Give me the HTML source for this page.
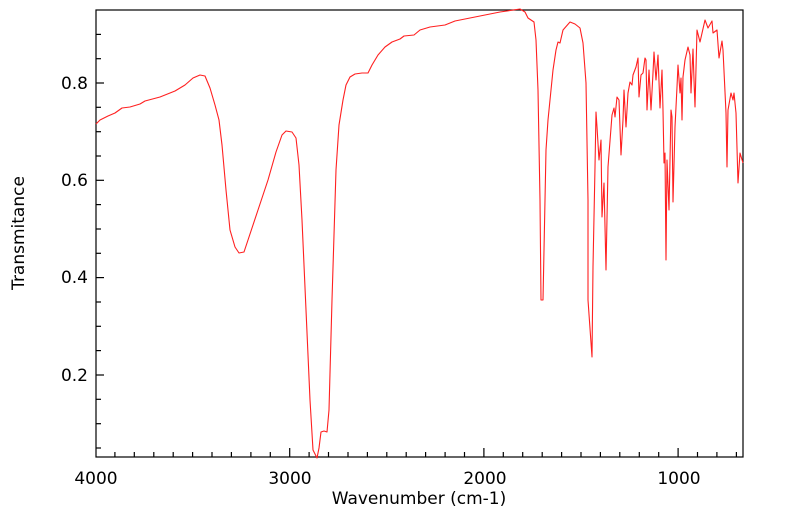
<!DOCTYPE html>
<html><head><meta charset="utf-8"><style>body{margin:0;background:#fff}svg{display:block}</style></head><body>
<svg width="799" height="516" xmlns="http://www.w3.org/2000/svg" font-family="DejaVu Sans, Liberation Sans, sans-serif">
<rect width="799" height="516" fill="#fff"/>
<g stroke="#000" stroke-width="1.2">
<line x1="96" x2="101" y1="34.4" y2="34.4"/>
<line x1="96" x2="101" y1="58.7" y2="58.7"/>
<line x1="96" x2="104" y1="83" y2="83"/>
<line x1="96" x2="101" y1="107.3" y2="107.3"/>
<line x1="96" x2="101" y1="131.7" y2="131.7"/>
<line x1="96" x2="101" y1="156" y2="156"/>
<line x1="96" x2="104" y1="180.3" y2="180.3"/>
<line x1="96" x2="101" y1="204.6" y2="204.6"/>
<line x1="96" x2="101" y1="229" y2="229"/>
<line x1="96" x2="101" y1="253.3" y2="253.3"/>
<line x1="96" x2="104" y1="277.6" y2="277.6"/>
<line x1="96" x2="101" y1="302" y2="302"/>
<line x1="96" x2="101" y1="326.3" y2="326.3"/>
<line x1="96" x2="101" y1="350.6" y2="350.6"/>
<line x1="96" x2="104" y1="375" y2="375"/>
<line x1="96" x2="101" y1="399.3" y2="399.3"/>
<line x1="96" x2="101" y1="423.7" y2="423.7"/>
<line x1="96" x2="101" y1="448" y2="448"/>
<line y1="457" y2="452" x1="114.9" x2="114.9"/>
<line y1="457" y2="452" x1="134.3" x2="134.3"/>
<line y1="457" y2="452" x1="153.8" x2="153.8"/>
<line y1="457" y2="452" x1="173.2" x2="173.2"/>
<line y1="457" y2="452" x1="192.6" x2="192.6"/>
<line y1="457" y2="452" x1="212" x2="212"/>
<line y1="457" y2="452" x1="231.4" x2="231.4"/>
<line y1="457" y2="452" x1="250.9" x2="250.9"/>
<line y1="457" y2="452" x1="270.3" x2="270.3"/>
<line y1="457" y2="448" x1="289.7" x2="289.7"/>
<line y1="457" y2="452" x1="309.1" x2="309.1"/>
<line y1="457" y2="452" x1="328.5" x2="328.5"/>
<line y1="457" y2="452" x1="348" x2="348"/>
<line y1="457" y2="452" x1="367.4" x2="367.4"/>
<line y1="457" y2="452" x1="386.8" x2="386.8"/>
<line y1="457" y2="452" x1="406.2" x2="406.2"/>
<line y1="457" y2="452" x1="425.6" x2="425.6"/>
<line y1="457" y2="452" x1="445.1" x2="445.1"/>
<line y1="457" y2="452" x1="464.5" x2="464.5"/>
<line y1="457" y2="448" x1="483.9" x2="483.9"/>
<line y1="457" y2="452" x1="503.3" x2="503.3"/>
<line y1="457" y2="452" x1="522.7" x2="522.7"/>
<line y1="457" y2="452" x1="542.2" x2="542.2"/>
<line y1="457" y2="452" x1="561.6" x2="561.6"/>
<line y1="457" y2="452" x1="581" x2="581"/>
<line y1="457" y2="452" x1="600.4" x2="600.4"/>
<line y1="457" y2="452" x1="619.8" x2="619.8"/>
<line y1="457" y2="452" x1="639.3" x2="639.3"/>
<line y1="457" y2="452" x1="658.7" x2="658.7"/>
<line y1="457" y2="448" x1="678.1" x2="678.1"/>
<line y1="457" y2="452" x1="697.5" x2="697.5"/>
<line y1="457" y2="452" x1="716.9" x2="716.9"/>
<line y1="457" y2="452" x1="736.4" x2="736.4"/>
</g>
<rect x="96" y="10" width="647" height="447" fill="none" stroke="#000" stroke-width="1.2"/>
<polyline fill="none" stroke="#ff2020" stroke-width="1.1" stroke-linejoin="round" points="96,124 100,120 108,116 115,113 122,108 130,107 140,104 145,101 160,97 175,91 185,85 193,78 200,75 205,76 210,88 215,105 219,120 222,145 226,190 230,230 235,247 239,253 244,252 248,240 258,210 268,180 276,152 282,135 286,131 292,132 296,138 299,165 302,220 306,310 310,400 313,450 317,458 319,448 321,432 324,431 327,432 329,410 332,300 336,170 339,125 343,100 346,85 350,77 355,74 362,73 368,73 372,65 378,55 385,47 392,42 400,39 404,36 414,35 420,30 430,27 445,25 455,21 465,19 485,15 500,12 520,9 525,12 528,18 534,22 536,40 538,90 540,200 541,300 543,300 545,200 546,150 548,120 550,100 553,70 556,50 558,42 560,43 563,30 570,22 575,24 580,28 583,43 586,83 588,200 588,300 592,357 593,267 595,167 596,112 597,127 599,160 601,140 602,217 604,183 606,270 608,167 612,115 614,108 615,117 617,97 619,100 621,155 623,120 624,90 626,127 628,93 630,82 632,85 633,75 636,67 638,58 639,97 641,75 643,73 645,58 646,60 647,110 649,70 651,110 653,73 654,52 656,80 658,55 660,108 662,70 663,110 664,163 665,153 666,260 667,160 669,210 671,110 672,117 673,202 675,127 677,87 678,65 680,93 681,78 682,120 683,77 685,60 688,47 690,55 691,93 693,49 694,80 695,107 697,30 700,42 705,20 708,28 712,21 713,33 717,30 719,58 722,41 723,50 726,113 727,167 728,110 731,93 733,100 734,93 736,113 738,183 740,153 743,163"/>
<g font-size="17" fill="#000">
<text x="96" y="484" text-anchor="middle">4000</text>
<text x="290" y="484" text-anchor="middle">3000</text>
<text x="485" y="484" text-anchor="middle">2000</text>
<text x="679" y="484" text-anchor="middle">1000</text>
<text x="88" y="89" text-anchor="end">0.8</text>
<text x="88" y="186" text-anchor="end">0.6</text>
<text x="88" y="283" text-anchor="end">0.4</text>
<text x="88" y="381" text-anchor="end">0.2</text>
<text x="419" y="504" text-anchor="middle">Wavenumber (cm-1)</text>
<text transform="translate(24,233) rotate(-90)" text-anchor="middle">Transmitance</text>
</g>
</svg>
</body></html>
